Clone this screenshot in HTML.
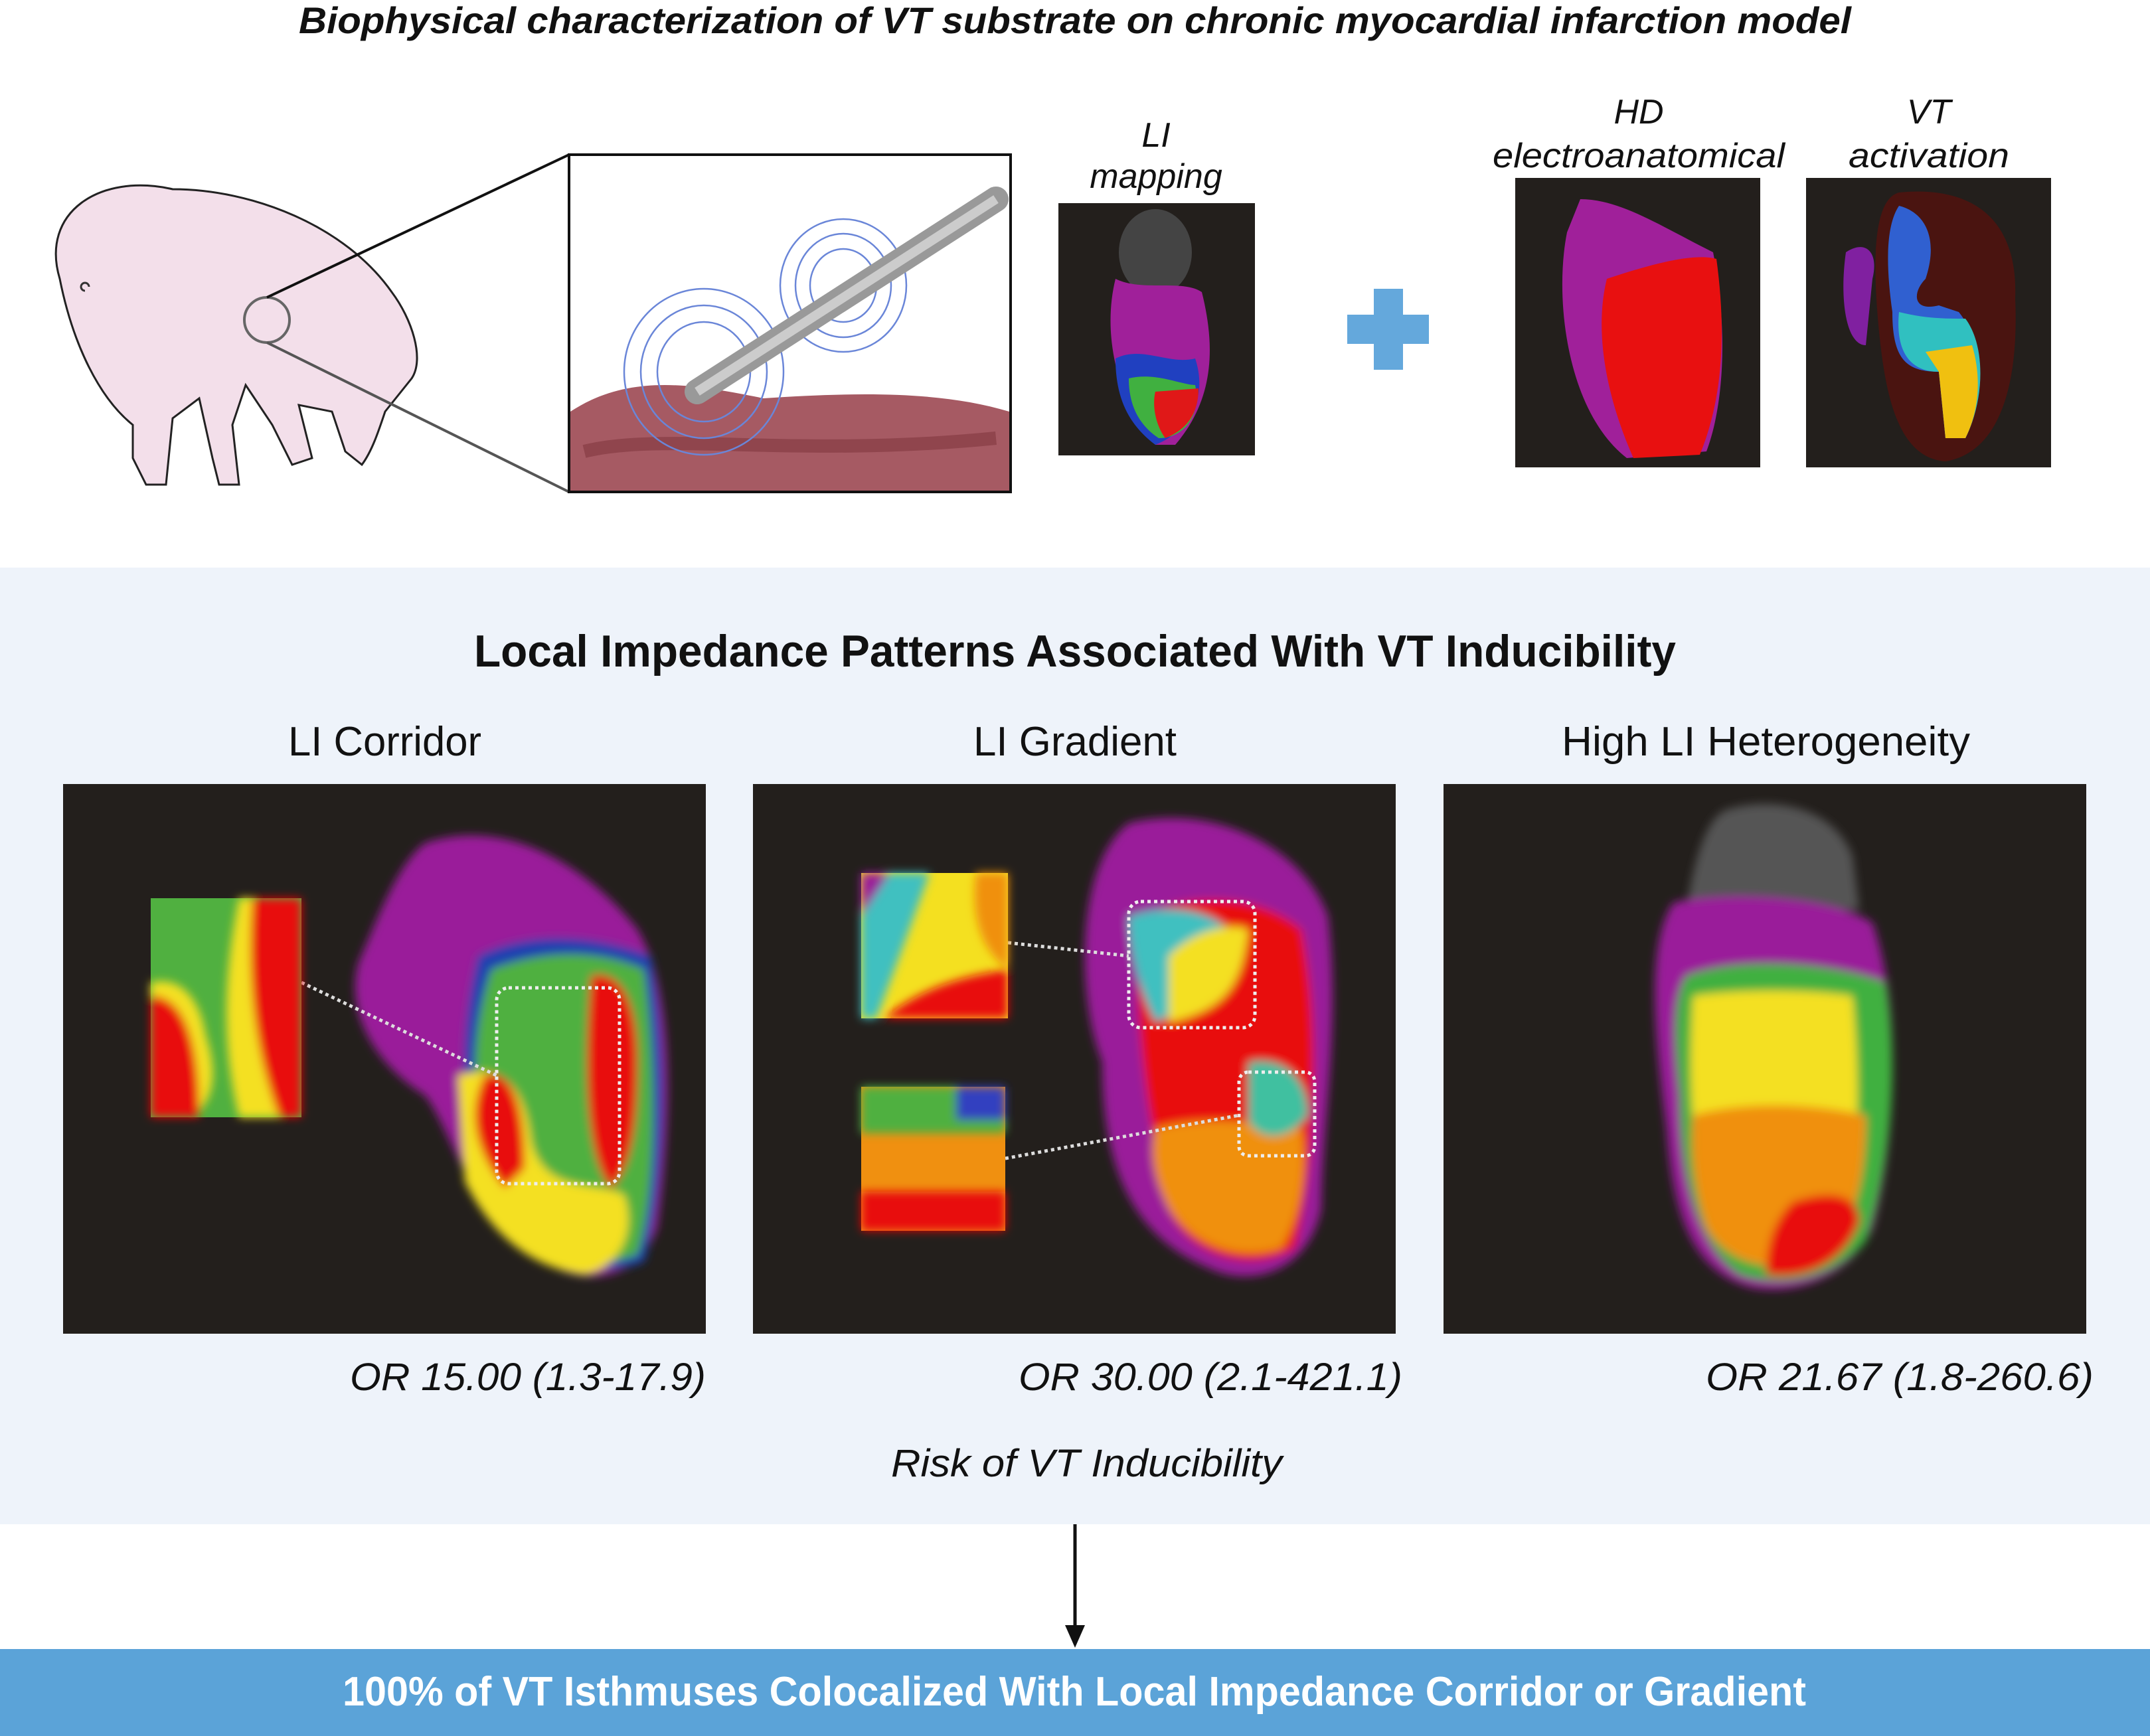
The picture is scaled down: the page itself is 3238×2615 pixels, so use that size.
<!DOCTYPE html>
<html><head><meta charset="utf-8"><style>html,body{margin:0;padding:0;background:#fff}svg{display:block}</style></head><body>
<svg width="3238" height="2615" viewBox="0 0 3238 2615" xmlns="http://www.w3.org/2000/svg" font-family="Liberation Sans, sans-serif">
<defs>
<filter id="b" x="-20%" y="-20%" width="140%" height="140%"><feGaussianBlur stdDeviation="14"/></filter>
<filter id="b2" x="-20%" y="-20%" width="140%" height="140%"><feGaussianBlur stdDeviation="7"/></filter>
</defs>
<rect width="3238" height="2615" fill="#fff"/>
<rect x="0" y="855" width="3238" height="1441" fill="#eef3fa"/>
<rect x="0" y="2484" width="3238" height="131" fill="#5ba3d8"/>
<line x1="1619" y1="2296" x2="1619" y2="2452" stroke="#111" stroke-width="5"/>
<polygon points="1604,2448 1634,2448 1619,2482" fill="#111"/>

<text x="450" y="50" font-size="56" font-weight="bold" font-style="italic" fill="#111" textLength="2338" lengthAdjust="spacingAndGlyphs">Biophysical characterization of VT substrate on chronic myocardial infarction model</text>

<!-- pig -->
<g stroke="#222" stroke-width="3" fill="#f3dfea">
<path d="M90,420 C60,320 150,260 260,285 C380,285 520,340 590,440 C620,480 640,540 620,570 L580,620 C570,650 560,680 545,700 L520,680 L500,620 L450,610 L470,690 L440,700 L410,640 L370,580 L350,640 L360,730 L330,730 L320,690 L300,600 L260,630 L250,730 L220,730 L200,690 L200,640 C150,600 110,520 90,420 Z"/>
</g>
<circle cx="402" cy="482" r="34" fill="none" stroke="#666" stroke-width="4"/>
<path d="M128,438 a6,6 0 1 1 6,-6" fill="none" stroke="#333" stroke-width="3"/>
<line x1="402" y1="448" x2="857" y2="233" stroke="#111" stroke-width="4"/>
<line x1="402" y1="516" x2="857" y2="741" stroke="#555" stroke-width="4"/>

<!-- catheter box -->
<rect x="857" y="233" width="665" height="508" fill="#fff" stroke="#111" stroke-width="4"/>
<path d="M859,620 C950,560 1050,580 1150,600 C1300,590 1420,590 1520,620 L1520,739 L859,739 Z" fill="#a65a63"/>
<path d="M880,680 C1000,650 1200,690 1500,660" stroke="#7a3038" stroke-width="20" fill="none" opacity="0.5"/>
<g fill="none" stroke="#6a86d8" stroke-width="2.5">
<ellipse cx="1060" cy="560" rx="70" ry="75"/><ellipse cx="1060" cy="560" rx="95" ry="100"/><ellipse cx="1060" cy="560" rx="120" ry="125"/>
<ellipse cx="1270" cy="430" rx="50" ry="55"/><ellipse cx="1270" cy="430" rx="72" ry="78"/><ellipse cx="1270" cy="430" rx="95" ry="100"/>
</g>
<path d="M1050,590 L1500,300" stroke="#999" stroke-width="38" stroke-linecap="round"/>
<path d="M1050,590 L1500,300" stroke="#ccc" stroke-width="14"/>

<!-- LI mapping -->
<text x="1741" y="221" font-size="52" font-style="italic" text-anchor="middle" fill="#111">LI</text>
<text x="1741" y="283" font-size="52" font-style="italic" text-anchor="middle" fill="#111">mapping</text>
<rect x="1594" y="306" width="296" height="380" fill="#231f1c"/>
<g>
<ellipse cx="1740" cy="380" rx="55" ry="65" fill="#444"/>
<path d="M1680,420 C1720,440 1780,420 1810,440 C1830,520 1830,600 1770,670 L1740,670 C1680,600 1660,500 1680,420 Z" fill="#a0209a"/>
<path d="M1680,540 C1720,520 1760,550 1800,540 C1820,600 1790,650 1740,670 C1700,640 1680,600 1680,540 Z" fill="#2040c0"/>
<path d="M1700,570 C1740,560 1780,580 1800,580 C1810,630 1780,660 1745,660 C1715,640 1700,610 1700,570 Z" fill="#40b040"/>
<path d="M1740,590 L1805,585 C1805,630 1780,650 1755,660 C1740,640 1735,610 1740,590 Z" fill="#e01818"/>
</g>

<!-- plus -->
<rect x="2069" y="435" width="44" height="122" fill="#64a8dc"/>
<rect x="2029" y="474" width="123" height="44" fill="#64a8dc"/>

<!-- HD -->
<text x="2468" y="186" font-size="52" font-style="italic" text-anchor="middle" fill="#111">HD</text>
<text x="2468" y="252" font-size="52" font-style="italic" text-anchor="middle" fill="#111" textLength="440" lengthAdjust="spacingAndGlyphs">electroanatomical</text>
<rect x="2282" y="268" width="369" height="436" fill="#231f1c"/>
<path d="M2380,300 C2440,300 2500,340 2580,380 C2600,480 2600,600 2570,680 L2450,690 C2360,620 2340,450 2360,350 Z" fill="#a0209a"/>
<path d="M2420,420 C2480,400 2550,380 2585,390 C2600,500 2595,600 2560,685 L2460,690 C2420,600 2400,500 2420,420 Z" fill="#e81010"/>

<!-- VT activation -->
<text x="2905" y="186" font-size="52" font-style="italic" text-anchor="middle" fill="#111">VT</text>
<text x="2905" y="252" font-size="52" font-style="italic" text-anchor="middle" fill="#111" textLength="242" lengthAdjust="spacingAndGlyphs">activation</text>
<rect x="2720" y="268" width="369" height="436" fill="#231f1c"/>
<path d="M2860,290 C2960,280 3040,320 3035,450 C3040,560 3020,680 2930,695 C2860,690 2840,600 2830,500 C2820,400 2820,300 2860,290 Z" fill="#4a1410"/>
<path d="M2780,380 C2810,360 2830,380 2820,420 L2810,520 C2780,520 2770,450 2780,380 Z" fill="#8020a0"/>
<path d="M2860,310 C2900,320 2920,360 2900,420 C2880,440 2880,470 2920,460 L2950,470 C2990,520 2990,600 2960,660 L2930,660 L2920,560 C2870,560 2850,540 2850,470 C2840,400 2840,340 2860,310 Z" fill="#3060d0"/>
<path d="M2860,470 C2900,480 2930,480 2960,480 C2990,520 2990,600 2960,660 L2930,660 L2920,560 C2870,560 2855,520 2860,470 Z" fill="#30c0c0"/>
<path d="M2900,530 L2970,520 C2985,570 2980,620 2960,660 L2930,660 L2920,560 Z" fill="#f0c010"/>

<!-- section title -->
<text x="714" y="1004" font-size="68" font-weight="bold" fill="#111" textLength="1810" lengthAdjust="spacingAndGlyphs">Local Impedance Patterns Associated With VT Inducibility</text>
<text x="434" y="1138" font-size="62" fill="#111" textLength="291" lengthAdjust="spacingAndGlyphs">LI Corridor</text>
<text x="1466" y="1138" font-size="62" fill="#111" textLength="306" lengthAdjust="spacingAndGlyphs">LI Gradient</text>
<text x="2352" y="1138" font-size="62" fill="#111" textLength="615" lengthAdjust="spacingAndGlyphs">High LI Heterogeneity</text>

<!-- panel 1 -->
<rect x="95" y="1181" width="968" height="828" fill="#231f1c"/>
<g filter="url(#b2)">
<path d="M640,1270 C760,1230 880,1300 960,1400 C1020,1500 1010,1700 990,1850 C960,1930 880,1940 820,1900 C700,1820 680,1700 640,1650 C560,1600 520,1520 540,1450 C570,1380 600,1300 640,1270 Z" fill="#9a1e9a"/>
<path d="M720,1440 C800,1400 900,1410 980,1440 C1010,1600 1000,1800 970,1900 C900,1930 820,1900 760,1840 C700,1760 680,1600 720,1440 Z" fill="#1e3fb0"/>
<path d="M740,1460 C820,1430 900,1430 970,1460 C990,1600 990,1800 960,1890 C880,1920 800,1880 760,1820 C710,1720 700,1580 740,1460 Z" fill="#50b040"/>
<path d="M690,1620 C760,1600 790,1640 800,1720 C820,1800 900,1780 940,1800 C960,1860 930,1910 880,1920 C800,1910 740,1860 700,1780 Z" fill="#f4e020"/>
<path d="M730,1620 C770,1610 790,1660 790,1760 L760,1790 C720,1740 700,1680 730,1620 Z" fill="#e81010"/>
<path d="M890,1470 C930,1460 960,1500 960,1600 C960,1700 950,1760 920,1790 C880,1740 880,1600 890,1470 Z" fill="#e81010"/>
</g>
<rect x="748" y="1488" width="185" height="295" rx="18" fill="none" stroke="#eee" stroke-width="5" stroke-dasharray="5 5"/>
<line x1="454" y1="1480" x2="748" y2="1620" stroke="#ddd" stroke-width="5" stroke-dasharray="5 5"/>
<rect x="227" y="1353" width="227" height="330" fill="#50b040"/>
<g filter="url(#b2)">
<path d="M227,1480 C270,1470 300,1500 310,1560 C330,1620 320,1660 290,1683 L227,1683 Z" fill="#f4e020"/>
<path d="M227,1500 C270,1500 300,1550 300,1683 L227,1683 Z" fill="#e81010"/>
<path d="M360,1353 L454,1353 L454,1683 L360,1683 C340,1600 330,1500 360,1353 Z" fill="#f4e020"/>
<path d="M380,1353 L454,1353 L454,1683 L420,1683 C390,1600 370,1500 380,1353 Z" fill="#e81010"/>
</g>

<!-- panel 2 -->
<rect x="1134" y="1181" width="968" height="828" fill="#231f1c"/>
<g filter="url(#b2)">
<path d="M1700,1240 C1820,1210 1960,1270 2000,1380 C2020,1550 1990,1700 1990,1820 C1970,1920 1880,1940 1820,1910 C1700,1860 1660,1750 1660,1600 C1620,1500 1620,1300 1700,1240 Z" fill="#9a1e9a"/>
<path d="M1720,1380 C1800,1340 1900,1350 1960,1400 C1990,1550 1980,1750 1950,1880 C1880,1920 1790,1890 1760,1820 C1730,1700 1700,1500 1720,1380 Z" fill="#e81010"/>
<path d="M1700,1380 C1760,1360 1820,1370 1850,1400 C1820,1480 1790,1520 1740,1540 C1710,1480 1700,1420 1700,1380 Z" fill="#40c0c0"/>
<path d="M1760,1440 C1800,1400 1850,1390 1880,1400 C1870,1480 1850,1520 1760,1540 Z" fill="#f4e020"/>
<path d="M1740,1700 C1800,1680 1900,1690 1960,1700 C1970,1760 1960,1830 1930,1880 C1870,1900 1800,1880 1760,1820 C1740,1780 1730,1740 1740,1700 Z" fill="#f09010"/>
<path d="M1880,1600 C1930,1590 1970,1620 1970,1680 C1940,1720 1900,1720 1880,1690 Z" fill="#40c0a0"/>
</g>
<rect x="1700" y="1358" width="190" height="190" rx="18" fill="none" stroke="#eee" stroke-width="5" stroke-dasharray="5 5"/>
<rect x="1866" y="1615" width="114" height="126" rx="14" fill="none" stroke="#eee" stroke-width="5" stroke-dasharray="5 5"/>
<line x1="1518" y1="1420" x2="1700" y2="1440" stroke="#ddd" stroke-width="5" stroke-dasharray="5 5"/>
<line x1="1514" y1="1745" x2="1866" y2="1680" stroke="#ddd" stroke-width="5" stroke-dasharray="5 5"/>
<rect x="1297" y="1315" width="221" height="219" fill="#f4e020"/>
<g filter="url(#b2)">
<path d="M1297,1315 L1400,1315 C1370,1400 1340,1480 1320,1534 L1297,1534 Z" fill="#40c0c0"/>
<path d="M1297,1315 L1340,1315 L1297,1380 Z" fill="#9a1e9a"/>
<path d="M1330,1534 C1400,1480 1460,1470 1518,1460 L1518,1534 Z" fill="#e81010"/>
<path d="M1470,1315 L1518,1315 L1518,1460 C1490,1440 1460,1400 1470,1315 Z" fill="#f09010"/>
</g>
<rect x="1297" y="1637" width="217" height="217" fill="#f09010"/>
<g filter="url(#b2)">
<rect x="1297" y="1637" width="217" height="70" fill="#50b040"/>
<rect x="1440" y="1637" width="74" height="50" fill="#3040c0"/>
<rect x="1297" y="1795" width="217" height="59" fill="#e81010"/>
</g>

<!-- panel 3 -->
<rect x="2174" y="1181" width="968" height="828" fill="#231f1c"/>
<g filter="url(#b2)">
<path d="M2600,1220 C2660,1200 2760,1210 2790,1290 L2800,1370 L2540,1370 C2550,1300 2570,1230 2600,1220 Z" fill="#555"/>
<path d="M2520,1360 C2600,1340 2760,1350 2820,1390 C2860,1500 2860,1700 2820,1850 C2780,1930 2700,1950 2640,1940 C2560,1920 2520,1850 2510,1700 C2490,1550 2480,1420 2520,1360 Z" fill="#9a1e9a"/>
<path d="M2540,1470 C2620,1440 2760,1450 2840,1480 C2860,1600 2850,1750 2810,1870 C2760,1930 2680,1940 2620,1920 C2560,1880 2530,1780 2530,1650 C2520,1560 2520,1500 2540,1470 Z" fill="#40b040"/>
<path d="M2550,1500 C2620,1490 2720,1490 2790,1500 C2800,1600 2800,1700 2790,1800 C2720,1900 2640,1900 2590,1860 C2550,1780 2540,1650 2550,1500 Z" fill="#f4e020"/>
<path d="M2550,1680 C2620,1660 2720,1660 2810,1680 C2810,1780 2790,1860 2740,1900 C2660,1920 2600,1900 2570,1850 C2550,1790 2545,1730 2550,1680 Z" fill="#f09010"/>
<path d="M2700,1810 C2760,1790 2800,1800 2800,1840 C2780,1900 2720,1930 2660,1920 C2660,1860 2680,1830 2700,1810 Z" fill="#e81010"/>
</g>

<!-- OR texts -->
<text x="527" y="2094" font-size="58" font-style="italic" fill="#111" textLength="536" lengthAdjust="spacingAndGlyphs">OR 15.00 (1.3-17.9)</text>
<text x="1534" y="2094" font-size="58" font-style="italic" fill="#111" textLength="578" lengthAdjust="spacingAndGlyphs">OR 30.00 (2.1-421.1)</text>
<text x="2569" y="2094" font-size="58" font-style="italic" fill="#111" textLength="584" lengthAdjust="spacingAndGlyphs">OR 21.67 (1.8-260.6)</text>
<text x="1342" y="2224" font-size="58" font-style="italic" fill="#111" textLength="589" lengthAdjust="spacingAndGlyphs">Risk of VT Inducibility</text>

<text x="516" y="2569" font-size="62" font-weight="bold" fill="#fff" textLength="2204" lengthAdjust="spacingAndGlyphs">100% of VT Isthmuses Colocalized With Local Impedance Corridor or Gradient</text>
</svg>
</body></html>
